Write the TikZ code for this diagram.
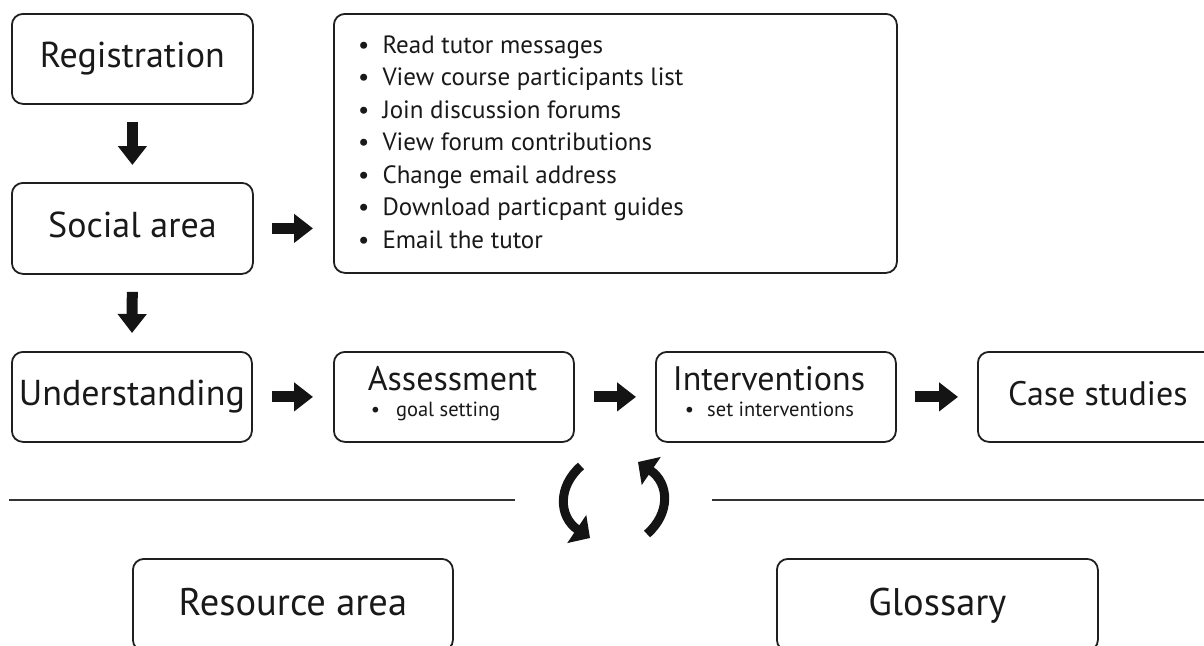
\documentclass[tikz,border=0pt]{standalone}
\usepackage{fontspec}
\setmainfont{PT Sans}
\usetikzlibrary{arrows.meta}
\begin{document}
\begin{tikzpicture}[x=1pt,y=-1pt,
  box/.style={draw=black!88, line width=1.8pt, rounded corners=11pt, anchor=north west, inner sep=0pt},
  big/.style={font=\fontsize{36}{40}\selectfont, text=black!90, text height=26pt, text depth=8pt},
  mid/.style={font=\fontsize{34}{38}\selectfont, text=black!90},
  small/.style={font=\fontsize{20.5}{24}\selectfont, text=black!90},
  flow/.style={line width=11pt, draw=black!92, -{Triangle[length=19pt,width=28pt]}},
  cyc/.style={line width=9pt, draw=black!92, -{Triangle[length=16pt,width=33pt]}},
  sep/.style={line width=2pt, draw=black!80}
]
\useasboundingbox (0,0) rectangle (1204,645);
\clip (0,0) rectangle (1204,645);

% top-left column
\node[box, big, minimum width=241pt, minimum height=90pt] (reg) at (11,13) {Registration};
\node[box, big, minimum width=241pt, minimum height=91pt] (soc) at (11,182) {Social area};

% list box
\node[box, minimum width=563pt, minimum height=259pt] (list) at (333,13) {};
\node[anchor=base west, inner sep=0pt, font=\fontsize{25}{32.5}\selectfont, text=black!90] (items) at (358,53)
 {\begin{tabular}[t]{@{}l@{\hspace{13pt}}l@{}}
  \textbullet & Read tutor messages\\
  \textbullet & View course participants list\\
  \textbullet & Join discussion forums\\
  \textbullet & View forum contributions\\
  \textbullet & Change email address\\
  \textbullet & Download particpant guides\\
  \textbullet & Email the tutor
 \end{tabular}};

% middle row
\node[box, big, minimum width=240pt, minimum height=90pt] (und) at (11,351) {Understanding};
\node[box, minimum width=240pt, minimum height=90pt] (ass) at (333,351) {};
\node[box, minimum width=240pt, minimum height=90pt] (int) at (655,351) {};
\node[box, big, font=\fontsize{34}{38}\selectfont, minimum width=240pt, minimum height=90pt] (cas) at (977,351) {Case studies};

\node[mid, anchor=base, inner sep=0pt] (asst) at (452.5,390) {Assessment};
\node[small, anchor=base west, inner sep=0pt] (asss) at ([xshift=3pt,yshift=-26pt]asst.base west) {\textbullet\hspace{16pt}goal setting};
\node[mid, anchor=base, inner sep=0pt] (intt) at (769,390) {Interventions};
\node[small, anchor=base west, inner sep=0pt] (ints) at ([xshift=12pt,yshift=-26pt]intt.base west) {\textbullet\hspace{13pt}set interventions};

% bottom row
\node[box, big, font=\fontsize{38.5}{42}\selectfont, text height=30pt, text depth=8pt, minimum width=320pt, minimum height=92pt] (res) at (132,558) {Resource area};
\node[box, big, font=\fontsize{38.5}{42}\selectfont, text height=30pt, text depth=8pt, minimum width=321pt, minimum height=92pt] (glo) at (776,558) {Glossary};

% arrows
\draw[flow, shorten <=17pt, shorten >=17pt] (reg.south) -- (soc.north);
\draw[flow, shorten <=17pt, shorten >=18pt] (soc.south) -- (und.north);
\draw[flow, shorten <=18pt, shorten >=20pt] (soc.east) -- (soc.east -| list.west);
\draw[flow, shorten <=19pt, shorten >=20pt] (und.east) -- (ass.west);
\draw[flow, shorten <=19pt, shorten >=19pt] (ass.east) -- (int.west);
\draw[flow, shorten <=18pt, shorten >=19pt] (int.east) -- (cas.west);

% separators
\coordinate (l1) at (9,500);
\coordinate (l2) at (515,500);
\coordinate (r1) at (712,500);
\coordinate (r2) at (1210,500);
\draw[sep] (l1) -- (l2);
\draw[sep] (r1) -- (r2);

% cycle arrows
\draw[cyc] (581,466) .. controls (557,487) and (559,517) .. (590,538);
\draw[cyc] (647,534) .. controls (671,513) and (669,483) .. (638,462);
\end{tikzpicture}
\end{document}
